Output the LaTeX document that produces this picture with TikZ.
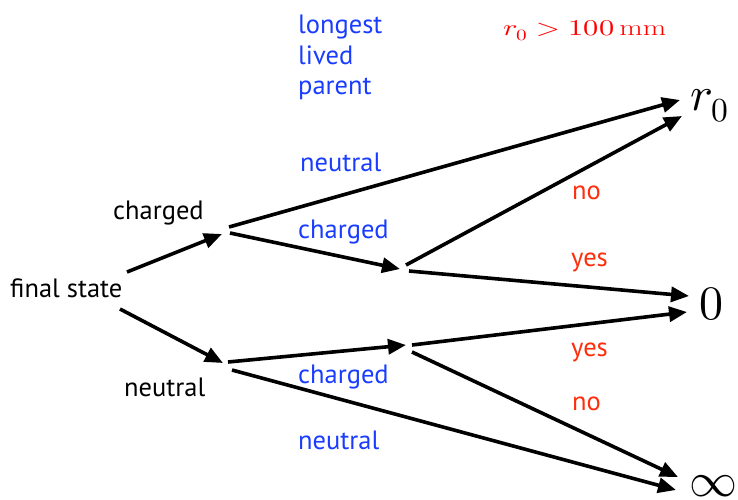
\documentclass[tikz,border=0pt]{standalone}
\usepackage{fontspec}
\setmainfont{PT Sans}
\usepackage{unicode-math}
\setmathfont{Latin Modern Math}
\setmathrm{Latin Modern Roman}
\usetikzlibrary{arrows.meta}
\definecolor{lblue}{RGB}{25,60,255}
\definecolor{lred}{RGB}{255,45,10}
\definecolor{mred}{RGB}{255,0,0}
\tikzset{
  lbl/.style={inner sep=0pt, anchor=base west, font=\fontsize{26.5}{31}\selectfont},
  blbl/.style={lbl, text=lblue},
  rlbl/.style={lbl, text=lred},
  big/.style={inner sep=0pt, anchor=base west, font=\fontsize{48}{56}\selectfont},
  arr/.style={line width=3.6pt, -{Triangle[length=18pt,width=15pt]}},
}
\begin{document}
\begin{tikzpicture}[x=1pt,y=-1pt]
\useasboundingbox (0,0) rectangle (738,499);
% labels
\node[lbl] (fs) at (10,297) {final state};
\node[lbl] (ch) at (113,219) {charged};
\node[lbl] (ne) at (124,396) {neutral};
\node[blbl] (l1) at (298,33) {longest};
\node[blbl] (l2) at (298,64) {lived};
\node[blbl] (l3) at (298,94) {parent};
\node[inner sep=0pt, anchor=base west, text=mred, font=\fontsize{22.5}{26}\selectfont] (cut) at (503,35) {\scalebox{1.35}[1]{$r_0 > 100\,\mathrm{mm}$}};
\node[blbl] (bn1) at (300,171) {neutral};
\node[blbl] (bc1) at (298,238) {charged};
\node[blbl] (bc2) at (298,383) {charged};
\node[blbl] (bn2) at (298,449) {neutral};
\node[rlbl] (no1) at (572,199) {no};
\node[rlbl] (ye1) at (571,266) {yes};
\node[rlbl] (ye2) at (571,356) {yes};
\node[rlbl] (no2) at (572,410) {no};
\node[big] (r0) at (690,110) {$r_0$};
\node[big] (zero) at (699,319) {$0$};
\node[big] (inf) at (689,496) {$\infty$};
% connector points
\coordinate (fsu) at (127,272);
\coordinate (fsd) at (120,309);
\coordinate (c1t) at (222,234);
\coordinate (c1a) at (229,227);
\coordinate (c1b) at (230,233);
\coordinate (n1t) at (223,363);
\coordinate (n1a) at (228,362);
\coordinate (n1b) at (232,370);
\coordinate (c2t) at (400,269);
\coordinate (c2a) at (406,265);
\coordinate (c2b) at (409,271);
\coordinate (n2t) at (406,345);
\coordinate (n2a) at (412,345);
\coordinate (n2b) at (412,352);
\coordinate (r0a) at (680,100);
\coordinate (r0b) at (682,116);
\coordinate (z0a) at (689,296);
\coordinate (z0b) at (687,312);
\coordinate (ia) at (678,477);
\coordinate (ib) at (676,490);
% connectors
\draw[arr] (fsu) -- (c1t);
\draw[arr] (fsd) -- (n1t);
\draw[arr] (c1a) -- (r0a);
\draw[arr] (c1b) -- (c2t);
\draw[arr] (c2a) -- (r0b);
\draw[arr] (c2b) -- (z0a);
\draw[arr] (n1a) -- (n2t);
\draw[arr] (n1b) -- (ib);
\draw[arr] (n2a) -- (z0b);
\draw[arr] (n2b) -- (ia);
\end{tikzpicture}
\end{document}
